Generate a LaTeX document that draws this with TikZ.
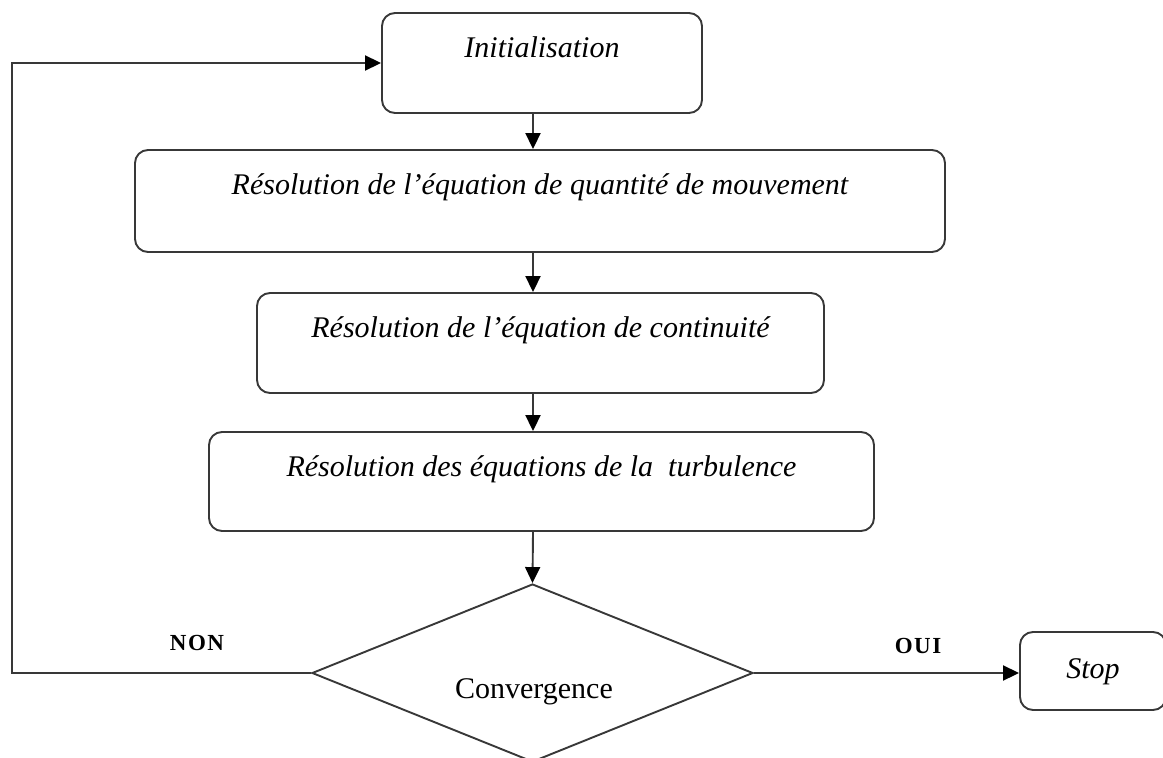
\documentclass[tikz,border=0pt]{standalone}
\usepackage{fontspec}
\setmainfont{Liberation Serif}
\usetikzlibrary{arrows.meta,shapes.geometric,calc}

\tikzset{
  flow/.style={line width=1.9pt, draw=black!78},
  arr/.style={flow, -{Triangle[length=16pt,width=15pt,fill=black,color=black]}},
  stepbox/.style={flow, rounded corners=13pt, inner sep=0pt},
  boxtext/.style={font=\fontsize{30}{32}\selectfont\itshape, anchor=base, inner sep=0pt},
  answer/.style={font=\fontsize{23}{26}\selectfont\bfseries, inner sep=0pt},
}

\begin{document}
\begin{tikzpicture}[x=1pt, y=-1pt]
  \useasboundingbox (0,0) rectangle (1163,758);

  % process boxes
  \node[stepbox, minimum width=320, minimum height=100,
        label={[boxtext, yshift=-45pt]north:Initialisation}] (init) at (542,63) {};
  \node[stepbox, minimum width=810, minimum height=102,
        label={[boxtext, yshift=-45pt]north:R\'esolution de l'\'equation de quantit\'e de mouvement}] (mom) at (540,201) {};
  \node[stepbox, minimum width=567, minimum height=100,
        label={[boxtext, yshift=-45pt]north:R\'esolution de l'\'equation de continuit\'e}] (cont) at (540.5,343) {};
  \node[stepbox, minimum width=665, minimum height=99,
        label={[boxtext, yshift=-45pt]north:R\'esolution des \'equations de la\ \ turbulence}] (turb) at (541.5,481.5) {};

  % decision
  \node[flow, diamond, inner sep=0pt, minimum width=441, minimum height=178] (conv) at (532.5,673) {};
  \node[font=\fontsize{30}{32}\selectfont, anchor=base, inner sep=0pt] (convtxt) at (534,698) {Convergence};

  % end box
  \node[stepbox, minimum width=146, minimum height=78,
        label={[boxtext, yshift=-47pt]north:Stop}] (stop) at (1093,671) {};

  % main chain
  \coordinate (ax) at (533,0);
  \draw[arr] (init.south -| ax) -- (mom.north -| ax);
  \draw[arr] (mom.south -| ax) -- (cont.north -| ax);
  \draw[arr] (cont.south -| ax) -- (turb.north -| ax);
  \draw[arr] (turb.south -| ax) -- (conv.north);

  % exits of the test
  \coordinate (back) at (12,0);
  \draw[arr] (conv.west) -- (conv.west -| back) |- (init.west);
  \draw[arr] (conv.east) -- (stop.west |- conv.east);

  \node[answer] (non) at (197,643) {N\kern1.5ptO\kern1.5ptN};
  \node[answer] (oui) at (918,646) {O\kern1.5ptU\kern1.5ptI};
\end{tikzpicture}
\end{document}
